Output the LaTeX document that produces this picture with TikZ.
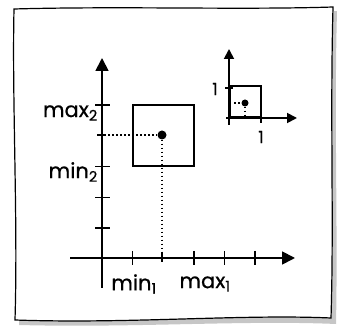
\documentclass[tikz,border=0pt]{standalone}
\usepackage{fontspec}
\setmainfont{Poppins}[BoldFont=Poppins, BoldFeatures={FakeBold=0.6}]
\usetikzlibrary{arrows.meta}
\tikzset{
  >={Triangle[length=13pt,width=13pt]},
  sheet/.style={draw, line width=1.2pt, fill=white},
  shadow/.style={fill=gray!45},
  axis/.style={line width=1.8pt},
  tick/.style={line width=1.5pt},
  box/.style={draw, line width=2pt, rectangle, inner sep=0pt},
  dot/.style={circle, fill, inner sep=0pt, minimum size=9pt},
  guide/.style={line width=1.5pt, dash pattern=on 1.5pt off 2.5pt},
  lbl/.style={font=\fontsize{21}{21}\selectfont\bfseries, inner sep=1pt},
  smalllbl/.style={font=\fontsize{17}{17}\selectfont\bfseries, inner sep=1pt},
}
\newcommand{\sub}[1]{\textsubscript{#1}}

\begin{document}
\begin{tikzpicture}[x=1pt, y=-1pt]
  \useasboundingbox (0,0) rectangle (337,328);
  % the sheet of paper
  \fill[shadow] (18,13) .. controls (124,10) and (244,14) .. (337,11)
    .. controls (334,124) and (338,224) .. (336,324)
    .. controls (244,320) and (134,328) .. (19,325)
    .. controls (22,224) and (16,104) .. (18,13) -- cycle;
  \draw[sheet] (14,9) .. controls (120,6) and (240,10) .. (333,7)
    .. controls (330,120) and (334,220) .. (331,318)
    .. controls (240,314) and (130,324) .. (15,320)
    .. controls (18,220) and (12,100) .. (14,9) -- cycle;

  % main axes
  \coordinate (xs) at (70,258);
  \coordinate (xe) at (295,258);
  \coordinate (ys) at (102,288);
  \coordinate (ye) at (102,58);
  \draw[axis,->] (xs) -- (xe);
  \draw[axis,->] (ys) -- (ye);
  \foreach \i in {1,3,4,5}
    \draw[tick] (102+30.6*\i,251) -- (102+30.6*\i,265);
  \draw[tick] (162,253) -- (162,262);
  \foreach \j in {0,2,3,4}
    \draw[tick] (95,105+30.8*\j) -- (110,105+30.8*\j);
  \draw[tick] (97,135) -- (106,135);

  % the square and its centre
  \node[box, minimum size=61pt] (sq) at (163.5,135.5) {};
  \node[dot] (pt) at (162,135) {};
  \coordinate (py) at (104,135);
  \coordinate (px) at (162,256);
  \draw[guide] (py) -- (pt);
  \draw[guide] (pt) -- (px);

  \node[lbl, anchor=east] (max2) at (99,113) {max\sub{2}};
  \node[lbl, anchor=east] (min2) at (99,172) {min\sub{2}};
  \node[lbl] (min1) at (134,284) {min\sub{1}};
  \node[lbl] (max1) at (205,284) {max\sub{1}};

  % the unit square
  \begin{scope}[>={Triangle[length=10pt,width=10pt]}]
    \coordinate (uxs) at (226,118);
    \coordinate (uxe) at (297,118);
    \coordinate (uys) at (229,125);
    \coordinate (uye) at (229,49);
    \draw[axis,->] (uxs) -- (uxe);
    \draw[axis,->] (uys) -- (uye);
    \node[box, minimum size=31pt, anchor=south west] (usq) at (229,118) {};
    \draw[tick] (225,88) -- (233,88);
    \draw[tick] (261,114) -- (261,123);
    \node[dot, minimum size=7pt] (upt) at (245,103) {};
    \coordinate (upy) at (234,103);
    \coordinate (upx) at (245,117);
    \draw[guide, line width=1.3pt] (upy) -- (upt);
    \draw[guide, line width=1.3pt] (upt) -- (upx);
    \node[smalllbl] (one2) at (215,89) {1};
    \node[smalllbl] (one1) at (261,137) {1};
  \end{scope}
\end{tikzpicture}
\end{document}
